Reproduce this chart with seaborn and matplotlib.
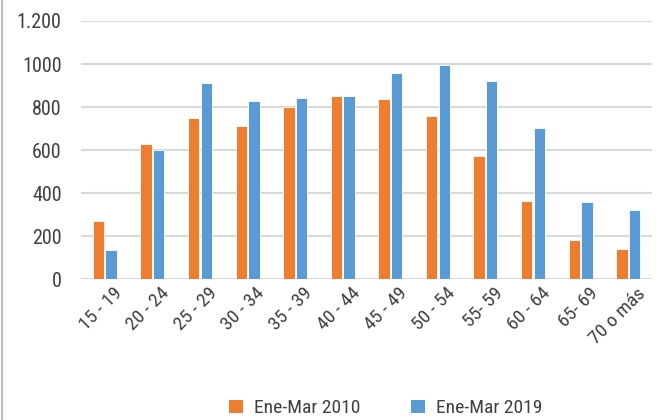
import matplotlib
matplotlib.use("Agg")
import matplotlib.pyplot as plt
from matplotlib import font_manager
from matplotlib.lines import Line2D
from matplotlib.patches import Patch
import matplotlib.transforms as mtransforms
import seaborn as sns
import pandas as pd

# Age groups and employment counts for the two quarters
grupos = ["15 - 19", "20 - 24", "25 - 29", "30 - 34", "35 - 39", "40 - 44",
          "45 - 49", "50 - 54", "55- 59", "60 - 64", "65- 69", "70 o más"]
ene_mar_2010 = [272, 629, 751, 710, 802, 853, 839, 757, 570, 362, 181, 138]
ene_mar_2019 = [136, 601, 912, 826, 842, 851, 958, 995, 922, 701, 356, 322]
series = ["Ene-Mar 2010", "Ene-Mar 2019"]
y_ticks = [0, 200, 400, 600, 800, 1000, 1200]
y_ticklabels = ["0", "200", "400", "600", "800", "1000", "1.200"]

colores = {"Ene-Mar 2010": "#ED7D31", "Ene-Mar 2019": "#5B9BD5"}
texto = "#404040"

sns.set_theme(style="white")
installed = {f.name for f in font_manager.fontManager.ttflist}
familia = next((f for f in ["Liberation Sans Narrow", "Roboto Condensed",
                            "Roboto", "DejaVu Sans"] if f in installed), "DejaVu Sans")
plt.rcParams["font.family"] = [familia, "DejaVu Sans"]

df = pd.DataFrame({
    "grupo": grupos * 2,
    "valor": ene_mar_2010 + ene_mar_2019,
    "serie": [series[0]] * len(grupos) + [series[1]] * len(grupos),
})

fig = plt.figure(figsize=(6.57, 4.20), dpi=100)
ax = fig.add_axes([0.1233, 0.3357, 0.8691, 0.6143])

sns.barplot(data=df, x="grupo", y="valor", hue="serie", order=grupos,
            hue_order=series, palette=colores, saturation=1, width=0.53,
            gap=0.1, edgecolor="white", linewidth=0.6, legend=False, ax=ax)

ax.set_ylim(0, 1200)
ax.set_xlim(-0.5, len(grupos) - 0.5)
ax.set_yticks(y_ticks)
ax.set_yticklabels(y_ticklabels, fontsize=14.5, color=texto)
ax.set_xticks(range(len(grupos)))
ax.set_xticklabels(grupos, rotation=45, ha="right", rotation_mode="anchor",
                   fontsize=14, color=texto)
ax.tick_params(axis="y", length=0, pad=14)
ax.tick_params(axis="x", length=0, pad=4)
shift = mtransforms.ScaledTranslation(0.08, 0, fig.dpi_scale_trans)
for lab in ax.get_xticklabels():
    lab.set_transform(lab.get_transform() + shift)
ax.set_xlabel("")
ax.set_ylabel("")
ax.yaxis.grid(True, color="#D9D9D9", linewidth=1.5)
ax.set_axisbelow(True)
for s in ax.spines.values():
    s.set_visible(False)

# Thin frame line on the left edge of the figure
fig.add_artist(Line2D([0.003, 0.003], [0, 1], transform=fig.transFigure,
                      color="#BFBFBF", linewidth=1.5))

handles = [Patch(facecolor=colores[s], edgecolor="none") for s in series]
fig.legend(handles, series, loc="center", bbox_to_anchor=(0.587, 0.028),
           ncol=2, frameon=False, fontsize=14, labelcolor=texto,
           handlelength=0.72, handleheight=0.72, handletextpad=0.57,
           columnspacing=2.6)

fig.savefig("out.png", dpi=100)
